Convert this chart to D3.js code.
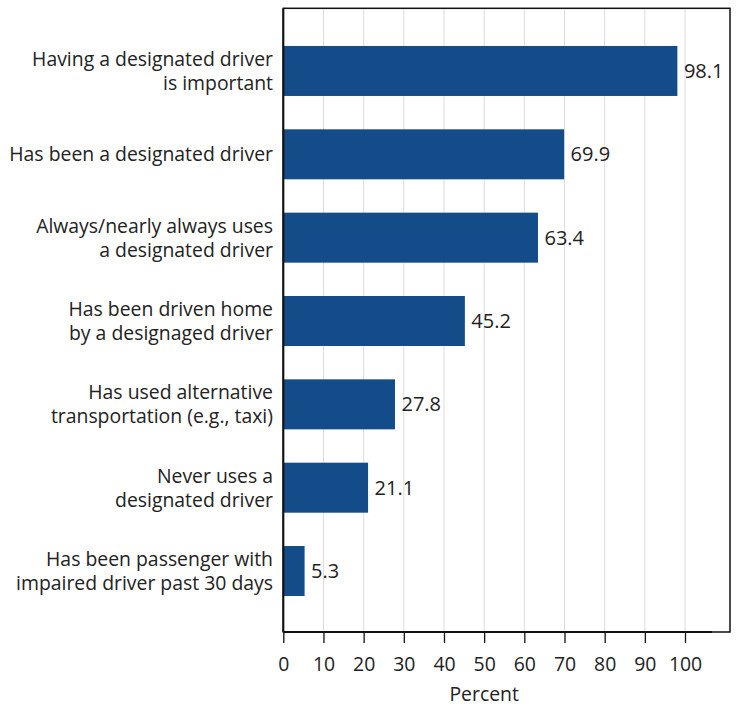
<!DOCTYPE html>
<html><head><meta charset="utf-8">
<script src="https://cdn.jsdelivr.net/npm/d3@7"></script>
<style>body{margin:0;background:#fff}text{font-family:"Open Sans",sans-serif;fill:#222}</style>
</head><body><svg id="c" width="737" height="704"></svg>
<script>
const categories = [
  ["Having a designated driver","is important"],
  ["Has been a designated driver"],
  ["Always/nearly always uses","a designated driver"],
  ["Has been driven home","by a designaged driver"],
  ["Has used alternative","transportation (e.g., taxi)"],
  ["Never uses a","designated driver"],
  ["Has been passenger with","impaired driver past 30 days"]
];
const values = [98.1, 69.9, 63.4, 45.2, 27.8, 21.1, 5.3];
const tickValues = [0,10,20,30,40,50,60,70,80,90,100];
const xLabel = "Percent";

(function(){
const svg = d3.select("#c");
const pL = 283.3, pR = 730, pT = 8.3, pB = 632;
const fs = 19.4;
const x = d3.scaleLinear().domain([0, 111.2]).range([pL, pR]);
const y = d3.scaleBand().domain(d3.range(categories.length)).range([29.3, 612.7]).paddingInner(0.4).paddingOuter(0.2);

// gridlines
svg.append("g").selectAll("line").data(tickValues.slice(1)).join("line")
  .attr("x1", d => x(d)).attr("x2", d => x(d)).attr("y1", pT).attr("y2", pB)
  .attr("stroke", "#dcdcdc").attr("stroke-width", 1);

// bars
svg.append("g").selectAll("rect").data(values).join("rect")
  .attr("x", x(0)).attr("y", (d,i) => y(i)).attr("width", d => x(d) - x(0)).attr("height", y.bandwidth())
  .attr("fill", "#134c89");

// value labels
svg.append("g").selectAll("text").data(values).join("text")
  .attr("x", d => x(d) + 6.5).attr("y", (d,i) => y(i) + y.bandwidth()/2 + 7)
  .attr("font-size", 20)
  .text(d => d.toFixed(1));

// border
svg.append("rect").attr("x", pL).attr("y", pT).attr("width", pR-pL).attr("height", pB-pT)
  .attr("fill", "none").attr("stroke", "#111").attr("stroke-width", 1.5);

// x axis
const ax = svg.append("g").attr("transform", `translate(0,${pB})`)
  .call(d3.axisBottom(x).tickValues(tickValues).tickSize(11).tickPadding(14).tickFormat(d3.format("d")));
ax.select(".domain").remove();
ax.append("line").attr("x1", pL).attr("x2", 712).attr("y1", 0).attr("y2", 0).attr("stroke", "#111").attr("stroke-width", 2);
ax.selectAll(".tick line").attr("stroke", "#111").attr("stroke-width", 1.3);
ax.selectAll(".tick text").attr("font-size", fs).attr("fill", "#222").attr("font-family", '"Open Sans",sans-serif');

svg.append("text").attr("x", x(50)).attr("y", 701).attr("text-anchor", "middle")
  .attr("font-size", fs).text(xLabel);

// left axis line
svg.append("line").attr("x1", pL).attr("x2", pL).attr("y1", pT).attr("y2", pB)
  .attr("stroke", "#111").attr("stroke-width", 2);

// category labels
const lh = 24;
const g = svg.append("g");
categories.forEach((lines, i) => {
  const cy = y(i) + y.bandwidth()/2;
  const t = g.append("text").attr("text-anchor", "end").attr("font-size", fs);
  lines.forEach((ln, j) => {
    t.append("tspan").attr("x", 273)
      .attr("y", cy + (j - (lines.length-1)/2) * lh + 7)
      .text(ln);
  });
});
})();
</script></body></html>
